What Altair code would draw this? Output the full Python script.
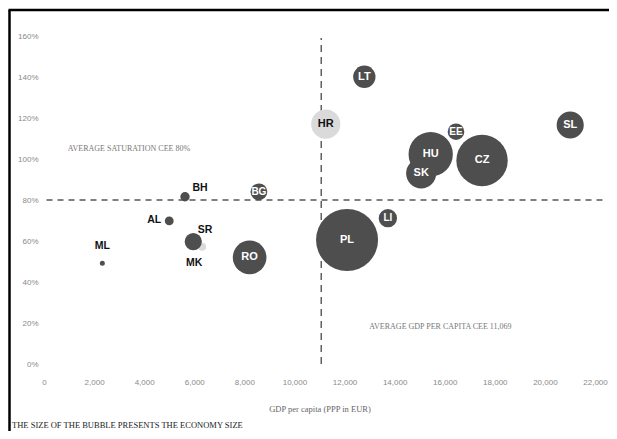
import altair as alt
import pandas as pd

# ---- data ----
countries = ["PL", "CZ", "HU", "RO", "SK", "HR", "SL", "LT", "LI", "BG", "SR", "MK", "EE", "BH", "AL", "ML"]
gdp_per_capita = [12100, 17490, 15440, 8210, 15060, 11250, 21010, 12790, 13730, 8580, 6315, 5960, 16450, 5630, 5000, 2330]
saturation = [0.605, 0.993, 1.023, 0.52, 0.93, 1.17, 1.166, 1.401, 0.711, 0.84, 0.572, 0.597, 1.133, 0.816, 0.698, 0.491]
economy_size = [1225, 841, 625, 361, 289, 272, 234, 159, 106, 90, 20, 94, 88, 28, 25, 8]
light_bubbles = ["HR", "SR"]

avg_saturation = 0.80
avg_gdp = 11069
x_ticks = [0, 2000, 4000, 6000, 8000, 10000, 12000, 14000, 16000, 18000, 20000, 22000]
y_ticks = [0, 0.2, 0.4, 0.6, 0.8, 1.0, 1.2, 1.4, 1.6]

sat_note = "AVERAGE SATURATION CEE 80%"
gdp_note = "AVERAGE GDP PER CAPITA CEE 11,069"
caption = "THE SIZE OF THE BUBBLE PRESENTS THE ECONOMY SIZE"

df = pd.DataFrame({
    "country": countries,
    "gdp": gdp_per_capita,
    "sat": saturation,
    "size": economy_size,
    "z": list(range(len(countries))),
    "shade": ["light" if c in light_bubbles else "dark" for c in countries],
})

# ---- styles ----
W, H = 551, 328
DARK = "#4e4e4e"
LIGHT = "#dadada"
SANS = "Liberation Sans"
SERIF = "Liberation Serif"

xs = alt.Scale(domain=[0, 22000], nice=False)
ys = alt.Scale(domain=[0, 1.6], nice=False)

x_axis = alt.Axis(values=x_ticks, format=",.0f", labelFont=SANS, labelFontSize=8, labelColor="#8a8a8a",
                  ticks=False, domain=False, grid=False, labelPadding=14, labelFlush=False,
                  title="GDP per capita (PPP in EUR)", titleFont=SERIF, titleFontSize=8.5,
                  titleFontWeight="normal", titleColor="#666666", titlePadding=18)
y_axis = alt.Axis(values=y_ticks, format=".0%", labelFont=SANS, labelFontSize=8, labelColor="#8a8a8a",
                  ticks=False, domain=False, grid=False, labelPadding=6, title=None)

base = alt.Chart(df)

bubbles = base.mark_circle(opacity=1, strokeWidth=0).encode(
    x=alt.X("gdp:Q", scale=xs, axis=x_axis),
    y=alt.Y("sat:Q", scale=ys, axis=y_axis),
    size=alt.Size("size:Q", scale=alt.Scale(domain=[0, 1225], range=[0, 3848]), legend=None),
    color=alt.Color("shade:N", scale=alt.Scale(domain=["dark", "light"], range=[DARK, LIGHT]), legend=None),
    order=alt.Order("z:Q"),
)

# reference lines
ref_h = pd.DataFrame({"y": [avg_saturation], "x0": [100], "x1": [22300]})
ref_v = pd.DataFrame({"x": [avg_gdp], "y0": [0.0], "y1": [1.59]})
hline = alt.Chart(ref_h).mark_rule(color="#555555", strokeWidth=1.4, strokeDash=[6, 5]).encode(
    y=alt.Y("y:Q", scale=ys), x=alt.X("x0:Q", scale=xs), x2="x1:Q")
vline = alt.Chart(ref_v).mark_rule(color="#555555", strokeWidth=1.4, strokeDash=[7, 5]).encode(
    x=alt.X("x:Q", scale=xs), y=alt.Y("y0:Q", scale=ys), y2="y1:Q")

# annotations
notes = pd.DataFrame({"text": [sat_note, gdp_note], "x": [950, 12990], "y": [1.05, 0.18]})
note_text = alt.Chart(notes).mark_text(font=SERIF, fontSize=8, color="#777777", align="left",
                                       baseline="middle").encode(
    x=alt.X("x:Q", scale=xs), y=alt.Y("y:Q", scale=ys), text="text:N")

# caption under the chart
cap_df = pd.DataFrame({"text": [caption]})
cap_text = alt.Chart(cap_df).mark_text(font=SERIF, fontSize=8.5, color="#222222", align="left",
                                       baseline="middle").encode(
    x=alt.value(-32), y=alt.value(389), text="text:N")

# bubble labels
inside_white_big = ["PL", "CZ", "HU", "RO", "SK", "SL", "LT"]
inside_white_small = ["LI", "BG", "EE"]
inside_black = ["HR"]
outside_offsets = {"BH": (15, -9), "AL": (-15, -1), "SR": (3, -17), "MK": (1, 21), "ML": (0, -17)}

layers = [hline, vline, bubbles, note_text, cap_text]

def lab(names, color, size, dx=0, dy=0):
    return base.transform_filter(alt.FieldOneOfPredicate(field="country", oneOf=names)).mark_text(
        font=SANS, fontWeight="bold", fontSize=size, color=color, dx=dx, dy=dy, baseline="middle"
    ).encode(x=alt.X("gdp:Q", scale=xs), y=alt.Y("sat:Q", scale=ys), text="country:N")

layers.append(lab(inside_white_big, "white", 11))
layers.append(lab(inside_white_small, "white", 10))
layers.append(lab(inside_black, "#111111", 11))
for name, (dx, dy) in outside_offsets.items():
    layers.append(lab([name], "#111111", 10.5, dx, dy))

# frame lines (top and left of the picture)
left_border = alt.Chart(ref_h).mark_rule(color="black", strokeWidth=2.5).encode(
    x=alt.value(-34.5), y=alt.value(-26), y2=alt.value(395))
top_border = alt.Chart(ref_h).mark_rule(color="black", strokeWidth=2.5).encode(
    y=alt.value(-26), x=alt.value(-35.5), x2=alt.value(570))
layers += [left_border, top_border]

chart = alt.layer(*layers).properties(
    width=W, height=H,
    autosize=alt.AutoSizeParams(type="none"),
    padding={"left": 36, "top": 28, "right": 14, "bottom": 67},
).configure_view(strokeWidth=0)

chart.save("out.html", embed_options={"renderer": "svg", "actions": False})
